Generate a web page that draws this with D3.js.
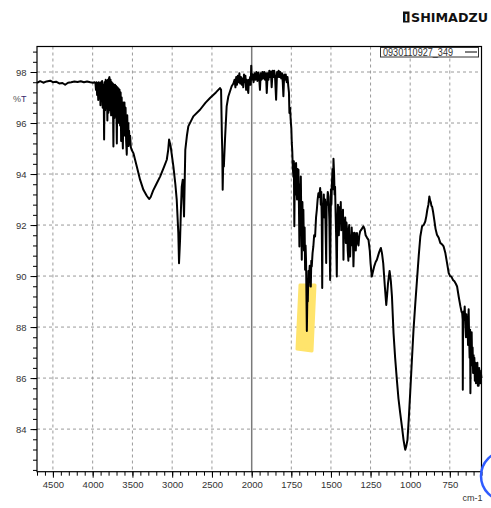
<!DOCTYPE html>
<html><head><meta charset="utf-8">
<script src="https://cdn.jsdelivr.net/npm/d3@7"></script>
<style>body{margin:0;background:#fff;}svg{display:block;}</style>
</head><body>
<svg id="c" width="491" height="508"></svg>
<script>
const wavenumbers = [
4700,4660,4620,4580,4534,4500,4460,4420,4380,4346,4310,4270,4230,4190,4150,4110,4070,4030,3995,3975,
3965,3958,3951,3944,3937,3930,3923,3916,3909,3902,3895,3888,3881,3874,3867,3860,3856,3850,3843,3836,3829,3822,3815,3808,3801,3794,3789,3782,3775,3768,3761,3754,3747,3739,3733,3726,3719,3712,3705,3696,3690,3683,3676,3669,3662,3655,3648,3642,3635,3628,3620,3614,3607,3600,3593,3586,3579,3571,3565,3558,3551,3548,3542,3535,3529,3520,3510,
3488,3445,3404,3362,3320,3299,3290,3270,3240,3200,3152,3100,3068,3050,3039,3020,2985,2960,2943,2923,2914,2901,2890,2880,2867,2860,2851,2842,2835,2815,2797,2734,2650,2580,2524,2450,2399,2385,2375,2370,2365,2358,2350,2336,2315,2294,2252,2230,
2215,2205,2195,2185,2175,2165,2155,2145,2135,2125,2115,2106,2097,2088,2079,2070,2061,2052,2043,2035,2027,2020,2012,2006,2000,
1994,1988,1982,1976,1970,1964,1958,1952,1948,1943,1938,1932,1927,1921,1916,1910,1905,1899,1894,1889,1884,1879,1874,1868,1863,1858,1853,1846,1840,1835,1830,1825,1820,1814,1809,1804,1800,1795,1790,1785,1779,1774,1769,1765,1762,1758,1754,1750,1747,1744,1741,1737,1734,1731,1728,1725,1722,1720,1717,1714,1711,1708,1705,1702,1699,1696,1693,1690,1687,1684,1680,1677,1674,1670,1666,1663,1660,1657,1652,1648,1646,1642,1638,1634,1630,1627,1624,1621,1616,1611,1606,1600,
1594,1589,1584,1579,1574,1568,1564,1561,1558,1555,1552,1549,1545,1541,1537,1533,1530,1527,1524,1520,1515,1510,1505,1500,1497,1494,1490,1486,1484,1480,1477,1474,1470,1467,1463,1460,1456,1453,1450,1446,1442,1438,1435,1431,1427,1424,1421,1418,1414,1410,1406,1402,1398,1394,1390,1387,1385,1382,1379,1375,1372,1369,1365,1362,1358,1354,1350,1347,1343,1340,1336,1331,1326,1321,1316,1305,1295,1288,1281,1272,1263,1255,1250,1242,1234,1226,1218,1210,1200,1195,1185,1178,1170,1160,1151,1145,1140,1130,1122,1115,1105,1095,1084,1074,1063,1052,1042,1036,1031,1024,1017,1008,1000,
990,979,968,957,946,936,925,915,905,898,892,885,879,874,870,866,862,855,848,840,831,820,810,800,789,778,767,757,748,740,730,721,712,704,694,683,676,672,669,668,666,664,660,656,652,648,645,641,638,635,631,628,625,622,620,617,614,612,609,606,603,600,598,595,592,588,585,582,579,576,573,570,568,565,562,560,557,554,550];
const transmittance = [
97.57,97.64,97.58,97.63,97.66,97.6,97.62,97.55,97.57,97.5,97.58,97.6,97.63,97.61,97.64,97.6,97.63,97.6,97.58,97.6,
97.55,97.3,97.6,97.1,97.55,96.9,97.6,97.0,97.55,96.7,97.6,96.9,97.65,96.6,97.5,96.8,95.35,97.6,96.5,97.7,96.6,97.65,96.1,97.7,96.4,97.75,97.8,96.5,97.7,96.3,97.6,96.5,97.55,95.08,97.5,96.2,97.5,96.3,97.45,95.2,97.4,96.1,97.35,96.0,97.3,95.9,97.2,95.3,97.0,95.8,95.0,96.8,95.6,96.8,95.5,96.6,95.3,94.76,96.3,95.3,96.0,95.1,95.7,95.2,95.5,95.05,94.95,
94.82,94.3,93.78,93.38,93.15,93.06,93.02,93.1,93.35,93.6,93.9,94.3,94.56,94.95,95.35,95.1,94.3,93.6,93.0,91.7,90.5,91.42,92.6,93.5,93.78,93.2,92.34,93.8,94.95,95.5,95.87,96.26,96.52,96.8,96.98,97.2,97.37,97.3,95.5,94.9,93.38,94.5,94.3,95.35,96.65,97.04,97.44,97.55,
97.7,97.4,97.8,97.5,97.85,97.6,97.95,97.55,97.8,97.5,97.75,97.4,97.9,97.6,97.85,97.3,97.7,97.4,97.18,97.7,97.5,97.8,97.5,98.25,97.7,
97.9,97.6,97.95,97.7,98.0,97.65,97.98,97.7,97.3,97.95,97.7,98.0,97.75,98.0,97.7,97.95,97.18,97.95,97.7,98.05,97.8,98.02,97.4,98.05,97.8,98.05,97.85,96.91,98.0,97.8,98.05,97.8,98.0,97.75,97.95,97.6,97.05,97.9,97.7,97.9,97.6,97.8,97.44,97.2,96.39,96.6,96.13,95.8,95.22,94.9,94.3,93.9,94.5,91.95,94.0,94.4,93.2,94.43,93.6,93.0,94.2,93.5,94.17,92.8,91.16,93.6,92.5,93.9,92.2,90.64,92.9,91.8,92.6,91.0,91.9,90.25,91.2,90.6,87.85,89.6,89.0,90.2,89.98,90.4,89.6,89.59,90.6,90.38,90.9,91.16,91.6,91.55,
92.3,92.6,93.0,93.25,93.1,93.45,92.8,93.3,92.2,89.53,92.8,92.5,93.2,92.3,93.0,91.6,90.51,92.9,92.8,93.3,93.1,92.2,89.85,93.4,92.8,93.6,94.2,93.4,94.6,94.0,93.2,93.5,92.3,91.5,89.98,92.0,92.8,92.5,91.6,92.7,92.1,92.9,91.8,92.47,91.9,92.6,90.64,92.2,91.5,92.3,91.3,92.1,91.8,91.0,90.6,91.8,92.0,91.2,90.77,91.6,91.3,91.9,91.2,91.7,90.38,91.3,91.7,91.6,91.0,91.5,91.69,91.3,91.2,91.6,91.75,91.85,91.95,91.85,91.6,91.5,91.42,91.0,90.5,89.98,90.2,90.4,90.55,90.64,90.85,90.95,91.1,90.9,90.5,89.6,88.87,89.3,89.7,90.2,89.8,89.2,87.76,86.8,85.93,85.2,84.63,84.1,83.58,83.35,83.19,83.35,83.58,84.5,85.41,
86.6,87.89,88.9,89.85,90.8,91.55,91.95,92.0,92.14,92.35,92.6,92.8,93.12,92.95,92.9,92.75,92.73,92.5,92.2,91.85,91.62,91.5,91.3,91.25,91.16,90.9,90.5,90.12,90.0,89.98,89.85,89.8,89.7,89.59,89.2,88.81,88.6,88.55,88.3,85.54,88.2,88.6,88.3,88.81,88.1,87.6,88.5,87.7,88.2,87.3,88.7,87.6,86.8,87.9,85.41,87.3,86.6,87.8,86.5,87.2,86.2,86.9,86.3,86.8,85.9,86.6,85.8,86.5,86.0,86.6,85.7,86.3,85.7,86.4,85.9,86.3,85.8,86.2,86.0];
const xTickValues = [4500,4000,3500,3000,2500,2000,1750,1500,1250,1000,750];
const yTickValues = [84,86,88,90,92,94,96,98];
const seriesName = "0930110927_349";

const svg = d3.select("#c");
const L = 37, R = 481.5, T = 46.5, B = 471.7;
const x = d3.scaleLinear().domain([4700, 2000, 550]).range([L, 251.7, R]);
const y = d3.scaleLinear().domain([82.33, 99.0]).range([B, T]);

const xMinor = [];
for (let v = 4700; v > 2000; v -= 100) xMinor.push(v);
for (let v = 2000; v >= 550; v -= 50) xMinor.push(v);
const yMinor = [];
for (let v = 82.4; v <= 98.9; v += 0.4) yMinor.push(+v.toFixed(1));

const grid = svg.append("g");
grid.selectAll("line.gx").data(xTickValues.filter(d => d !== 2000)).join("line")
  .attr("x1", d => x(d)).attr("x2", d => x(d)).attr("y1", T).attr("y2", B)
  .attr("stroke", "#9a9a9a").attr("stroke-dasharray", "3,3").attr("stroke-width", 1);
grid.selectAll("line.gy").data(yTickValues).join("line")
  .attr("y1", d => y(d)).attr("y2", d => y(d)).attr("x1", L).attr("x2", R)
  .attr("stroke", "#9a9a9a").attr("stroke-dasharray", "3,3").attr("stroke-width", 1);

svg.append("line").attr("x1", x(2000)).attr("x2", x(2000)).attr("y1", T).attr("y2", B)
  .attr("stroke", "#7a7a7a").attr("stroke-width", 1.5);

svg.append("path")
  .attr("d", "M300,285 L315,285 L312,351 L297,349 Z")
  .attr("fill", "#ffe46c").attr("stroke", "#ffe46c").attr("stroke-width", 3).attr("stroke-linejoin", "round");

const n = Math.min(wavenumbers.length, transmittance.length);
const data = d3.range(n).map(i => [wavenumbers[i], transmittance[i]]);
svg.append("path").datum(data)
  .attr("d", d3.line().x(d => x(d[0])).y(d => y(d[1])))
  .attr("fill", "none").attr("stroke", "#000").attr("stroke-width", 2).attr("stroke-linejoin", "round");

svg.append("rect").attr("x", L).attr("y", T).attr("width", R - L).attr("height", B - T)
  .attr("fill", "none").attr("stroke", "#000").attr("stroke-width", 1.2);

const xAxisMinor = d3.axisBottom(x).tickValues(xMinor).tickSize(4).tickFormat("");
const xAxis = d3.axisBottom(x).tickValues(xTickValues).tickSize(6).tickPadding(4).tickFormat(d3.format("d"));
const gxm = svg.append("g").attr("transform", `translate(0,${B})`).call(xAxisMinor);
gxm.select(".domain").remove();
gxm.selectAll("line").attr("stroke", "#000");
const gx = svg.append("g").attr("transform", `translate(0,${B})`).call(xAxis);
gx.select(".domain").remove();
gx.selectAll("line").attr("stroke", "#000");
gx.selectAll("text").attr("font-family", "Liberation Sans, Arial, sans-serif").attr("font-size", 9.5).attr("fill", "#333");

const yAxisMinor = d3.axisLeft(y).tickValues(yMinor).tickSize(4).tickFormat("");
const yAxis = d3.axisLeft(y).tickValues(yTickValues).tickSize(6.5).tickPadding(4).tickFormat(d3.format("d"));
const gym = svg.append("g").attr("transform", `translate(${L},0)`).call(yAxisMinor);
gym.select(".domain").remove();
gym.selectAll("line").attr("stroke", "#000");
const gy = svg.append("g").attr("transform", `translate(${L},0)`).call(yAxis);
gy.select(".domain").remove();
gy.selectAll("line").attr("stroke", "#000");
gy.selectAll("text").attr("font-family", "Liberation Sans, Arial, sans-serif").attr("font-size", 9.5).attr("fill", "#333");

const pt = svg.append("text").attr("x", 13).attr("y", 101.5)
  .attr("font-family", "Liberation Sans, Arial, sans-serif").attr("font-size", 9);
pt.append("tspan").text("%").attr("fill", "#555");
pt.append("tspan").text("T").attr("fill", "#3b2a6e");
svg.append("text").attr("x", 462.5).attr("y", 500.5).text("cm-1")
  .attr("font-family", "Liberation Sans, Arial, sans-serif").attr("font-size", 9).attr("fill", "#333");

const lg = svg.append("g");
lg.append("rect").attr("x", 380.5).attr("y", 47.5).attr("width", 98).attr("height", 9.5)
  .attr("fill", "#fff").attr("stroke", "#333").attr("stroke-width", 1);
lg.append("text").attr("x", 383).attr("y", 55.8).text(seriesName)
  .attr("font-family", "Liberation Sans, Arial, sans-serif").attr("font-size", 10.5)
  .attr("textLength", 70).attr("lengthAdjust", "spacingAndGlyphs").attr("fill", "#333");
lg.append("line").attr("x1", 465).attr("x2", 477).attr("y1", 52).attr("y2", 52).attr("stroke", "#000").attr("stroke-width", 1);

const logo = svg.append("g");
logo.append("rect").attr("x", 403).attr("y", 11.5).attr("width", 6.5).attr("height", 11).attr("fill", "#111");
logo.append("text").attr("x", 406.2).attr("y", 20.5).attr("text-anchor", "middle").text("I")
  .attr("font-family", "DejaVu Sans").attr("font-size", 8).attr("fill", "#fff").attr("font-weight", "bold");
logo.append("text").attr("x", 411).attr("y", 22).text("SHIMADZU")
  .attr("font-family", "DejaVu Sans, sans-serif").attr("font-weight", "bold").attr("font-size", 12)
  .attr("textLength", 77).attr("lengthAdjust", "spacingAndGlyphs").attr("fill", "#111");

svg.append("circle").attr("cx", 506).attr("cy", 476).attr("r", 25)
  .attr("fill", "none").attr("stroke", "#2f5bff").attr("stroke-width", 2.5);
</script>
</body></html>
